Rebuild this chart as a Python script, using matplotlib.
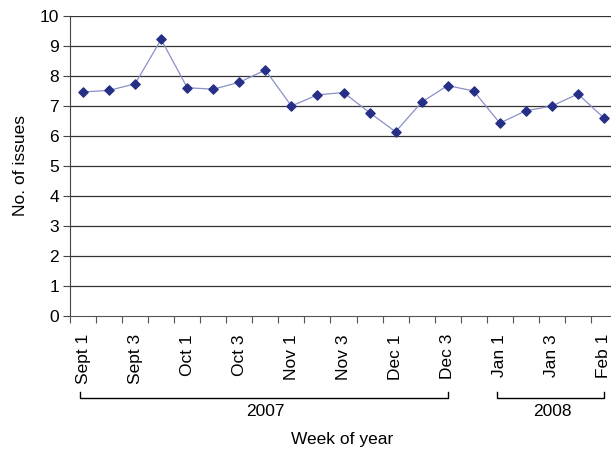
import matplotlib
matplotlib.use("Agg")
import matplotlib.pyplot as plt
from matplotlib.transforms import blended_transform_factory

plt.rcParams['font.family'] = ['Liberation Sans', 'DejaVu Sans']

# weekly counts, Sept 2007 .. Feb 2008
weeks = ["Sept 1", "Sept 2", "Sept 3", "Sept 4", "Oct 1", "Oct 2", "Oct 3", "Oct 4",
         "Nov 1", "Nov 2", "Nov 3", "Nov 4", "Dec 1", "Dec 2", "Dec 3", "Dec 4",
         "Jan 1", "Jan 2", "Jan 3", "Jan 4", "Feb 1"]
issues = [7.47, 7.52, 7.74, 9.22, 7.61, 7.56, 7.79, 8.2, 7.0, 7.37, 7.45,
          6.78, 6.14, 7.13, 7.68, 7.5, 6.43, 6.84, 7.0, 7.4, 6.6]
years = ["2007", "2008"]
year_span = [(0, 14), (16, 20)]

fig = plt.figure(figsize=(6.11, 4.53), dpi=100)
ax = fig.add_axes([70/611, 137/453, 547/611, 300/453])

x = list(range(len(weeks)))
ax.plot(x, issues, color="#8a90c8", lw=0.9, zorder=3)
ax.scatter(x, issues, marker="D", s=22, color="#262f86", zorder=4)

ax.set_xlim(-0.5, len(weeks) - 0.5)
ax.set_ylim(0, 10)
ax.set_yticks(range(0, 11))
for yv in range(1, 11):
    ax.axhline(yv, color="#333333", lw=0.9, zorder=1)

# category boundaries as ticks, labels every second week
ax.set_xticks([i - 0.5 for i in range(len(weeks))])
ax.set_xticklabels([])
ax.set_xticks(x[::2], minor=True)
ax.set_xticklabels(weeks[::2], minor=True, rotation=90, fontsize=12.5)
ax.tick_params(axis='x', which='minor', length=0, pad=13)
ax.tick_params(axis='x', which='major', length=5, color="#555555")
ax.tick_params(axis='y', length=5, pad=3, labelsize=12.5, color="#444444")

for s in ["top", "right"]:
    ax.spines[s].set_visible(False)
ax.spines["bottom"].set_color("#555555")
ax.spines["left"].set_color("#444444")

ax.set_ylabel("No. of issues", fontsize=12.5, labelpad=8)

# year brackets under the tick labels
tr = blended_transform_factory(ax.transData, ax.transAxes)
for yr, (a, b) in zip(years, year_span):
    ax.plot([a - 0.1, a - 0.1, b, b], [-0.253, -0.273, -0.273, -0.253],
            color="black", lw=1, transform=tr, clip_on=False)
    ax.text((a + b) / 2, -0.317, yr, transform=tr, ha="center", va="center", fontsize=12.5)

ax.text(0.497, -0.413, "Week of year", transform=ax.transAxes, ha="center",
        va="center", fontsize=12.5)

fig.savefig("out.png", dpi=100)
